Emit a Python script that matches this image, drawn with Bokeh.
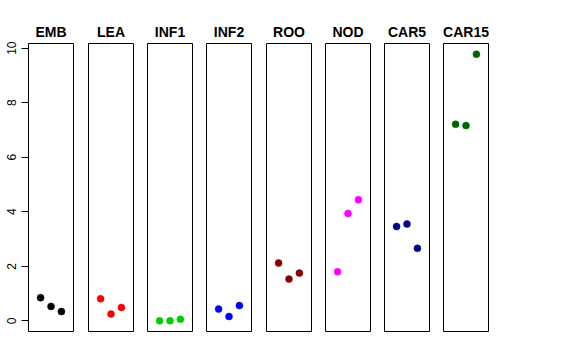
from bokeh.plotting import figure
from bokeh.layouts import row
from bokeh.models import Range1d, FixedTicker
from bokeh.embed import file_html
from bokeh.resources import INLINE

# ---- data ----
groups = ["EMB", "LEA", "INF1", "INF2", "ROO", "NOD", "CAR5", "CAR15"]
colors = ["black", "red", "#00CD00", "blue", "#8B0000", "magenta", "#00008B", "#006400"]
replicate = [1, 2, 3]
EMB = [0.85, 0.53, 0.34]
LEA = [0.81, 0.25, 0.49]
INF1 = [0.00, 0.00, 0.06]
INF2 = [0.43, 0.16, 0.56]
ROO = [2.12, 1.53, 1.75]
NOD = [1.80, 3.94, 4.44]
CAR5 = [3.46, 3.55, 2.66]
CAR15 = [7.21, 7.16, 9.78]
y_ticks = [0, 2, 4, 6, 8, 10]
x_limits = (0, 4)

series = [EMB, LEA, INF1, INF2, ROO, NOD, CAR5, CAR15]

all_vals = [v for s in series for v in s]
ymin, ymax = min(all_vals), max(all_vals)
pad = 0.04 * (ymax - ymin)
xpad = 0.04 * (x_limits[1] - x_limits[0])

FONT = "Liberation Sans"
FRAME_W = 45
FRAME_H = 288
TOP = 43
BOTTOM = 12
right_borders = [8, 7, 7, 8, 7, 7, 7, 7]

figs = []
for i, (name, col, vals) in enumerate(zip(groups, colors, series)):
    left = 28 if i == 0 else 7
    right = right_borders[i]
    p = figure(
        width=left + FRAME_W + right,
        height=TOP + FRAME_H + BOTTOM,
        x_range=Range1d(x_limits[0] - xpad, x_limits[1] + xpad),
        y_range=Range1d(ymin - pad, ymax + pad),
        output_backend="svg",
        toolbar_location=None,
        x_axis_location=None,
        y_axis_location="left" if i == 0 else None,
        min_border_left=left,
        min_border_right=right,
        min_border_top=TOP,
        min_border_bottom=BOTTOM,
        title=name,
    )
    p.title.align = "center"
    p.title.text_font = FONT
    p.title.text_font_size = "14px"
    p.title.text_font_style = "bold"
    p.title.text_color = "black"
    p.title.standoff = 8
    p.grid.visible = False
    p.outline_line_color = "black"
    p.outline_line_width = 1
    p.background_fill_color = "white"
    p.border_fill_color = "white"
    if i == 0:
        ax = p.yaxis[0]
        ax.ticker = FixedTicker(ticks=y_ticks)
        ax.bounds = (y_ticks[0], y_ticks[-1])
        ax.major_label_orientation = "vertical"
        ax.major_tick_out = 7
        ax.major_tick_in = 0
        ax.minor_tick_line_color = None
        ax.axis_line_color = "black"
        ax.major_tick_line_color = "black"
        ax.major_label_standoff = 5
        ax.major_label_text_font = FONT
        ax.major_label_text_font_size = "12px"
        ax.major_label_text_color = "black"
    p.scatter(replicate, vals, size=7, fill_color=col, line_color=col, line_width=0.5)
    figs.append(p)

layout = row(*figs, spacing=0)
open("out.html", "w").write(file_html(layout, INLINE))
